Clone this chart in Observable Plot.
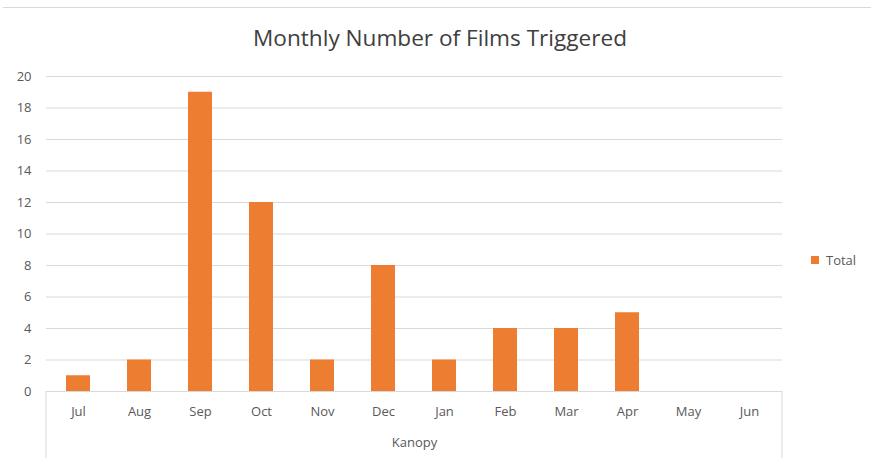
<!DOCTYPE html>
<html><head><meta charset="utf-8">
<script src="https://cdn.jsdelivr.net/npm/d3@7"></script>
<script src="https://cdn.jsdelivr.net/npm/@observablehq/plot@0.6"></script>
<style>
body{margin:0;background:#fff;font-family:"Open Sans",sans-serif;}
#wrap{position:relative;width:871px;height:458px;overflow:hidden;background:#fff}
#topline{position:absolute;left:3px;right:0;top:7px;height:0;border-top:1px solid #d9d9d9}
#title{position:absolute;left:0;width:880px;top:23px;text-align:center;font-size:22.6px;color:#404040;line-height:30px}
#legend{position:absolute;left:811px;top:251px;font-size:13px;color:#595959;line-height:18px;display:flex;align-items:center}
#legend span.sw{display:inline-block;width:8px;height:8px;background:#ed7d31;margin-right:7px}
#chart{position:absolute;left:0;top:0}
</style></head>
<body>
<div id="wrap">
  <div id="chart"></div>
  <div id="topline"></div>
  <div id="title">Monthly Number of Films Triggered</div>
  <div id="legend"><span class="sw"></span><span>Total</span></div>
</div>
<script>
const months = ["Jul","Aug","Sep","Oct","Nov","Dec","Jan","Feb","Mar","Apr","May","Jun"];
const totals = [1,2,19,12,2,8,2,4,4,5,0,0];
const yTicks = [0,2,4,6,8,10,12,14,16,18,20];
const axisTitle = "Kanopy";
const seriesName = "Total";

const data = months.map((m,i)=>({month:m,total:totals[i]}));

const boxLines = (index, scales, values, dims) => {
  const g = d3.create("svg:g");
  const x0 = dims.marginLeft, x1 = dims.width - dims.marginRight;
  const yTop = dims.height - dims.marginBottom, yBot = dims.height;
  [x0, x1].forEach(x => g.append("line")
    .attr("x1", x).attr("x2", x).attr("y1", yTop).attr("y2", yBot)
    .attr("stroke", "#d9d9d9").attr("stroke-width", 1));
  return g.node();
};

const chart = Plot.plot({
  width: 871,
  height: 458,
  marginLeft: 46,
  marginRight: 89,
  marginTop: 76,
  marginBottom: 67,
  style: {fontFamily: "'Open Sans', sans-serif", fontSize: "13px", color: "#595959", background: "transparent"},
  x: {domain: months, paddingInner: 0.6, paddingOuter: 0.3, label: null},
  y: {domain: [0, 20], label: null},
  marks: [
    Plot.ruleY(yTicks, {stroke: "#d9d9d9", strokeWidth: 1}),
    Plot.barY(data, {x: "month", y: "total", fill: "#ed7d31"}),
    Plot.axisX({tickSize: 0, tickPadding: 15, label: null}),
    Plot.axisY({ticks: yTicks, tickSize: 0, tickPadding: 15, label: null}),
    Plot.text([axisTitle], {frameAnchor: "bottom", dy: 55, text: d => d, fill: "#595959", fontSize: 13}),
    boxLines
  ]
});
document.getElementById("chart").appendChild(chart);
</script>
</body></html>
